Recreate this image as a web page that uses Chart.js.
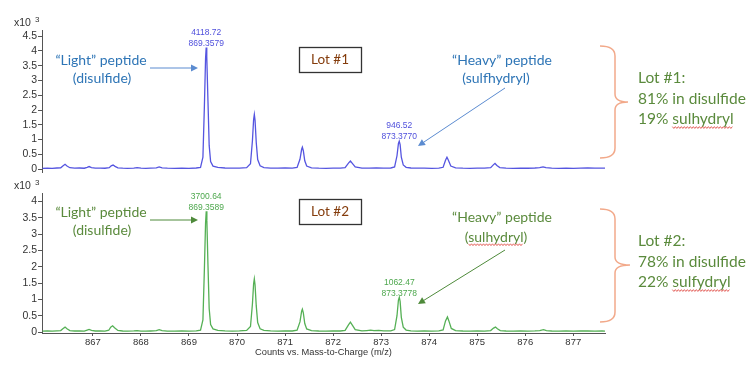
<!DOCTYPE html>
<html>
<head>
<meta charset="utf-8">
<script src="https://cdn.jsdelivr.net/npm/chart.js@4.4.1/dist/chart.umd.min.js"></script>
<style>
    body { margin: 0; background: #fff; }
    #wrap { position: relative; width: 750px; height: 367px; overflow: hidden; }
    canvas { position: absolute; left: 0; }
    #lot1 { top: 0; }
    #lot2 { top: 180px; }
</style>
</head>
<body>
<div id="wrap">
    <canvas id="lot1" width="750" height="182"></canvas>
    <canvas id="lot2" width="750" height="187"></canvas>
</div>
<script>
// Profile spectra: [m/z, counts]
const lot1Trace = [
    [865.95, 25], [866.05, 32], [866.15, 26], [866.25, 35], [866.33, 40], [866.38, 110], [866.42, 160], [866.46, 105],
    [866.52, 45], [866.62, 30], [866.72, 36], [866.82, 28], [866.88, 60], [866.92, 85], [866.97, 50], [867.05, 30],
    [867.15, 34], [867.25, 27], [867.34, 45], [867.38, 110], [867.42, 135], [867.46, 90], [867.52, 40], [867.62, 30],
    [867.72, 25], [867.85, 32], [867.92, 45], [868.0, 28], [868.1, 24], [868.2, 30], [868.32, 38], [868.38, 70],
    [868.44, 38], [868.55, 28], [868.7, 22], [868.85, 30], [869.0, 26], [869.15, 35], [869.24, 55], [869.29, 400],
    [869.32, 2100], [869.345, 3750], [869.358, 4118.72], [869.37, 3800], [869.395, 2300], [869.42, 800], [869.45, 250],
    [869.5, 100], [869.6, 55], [869.75, 35], [869.9, 28], [870.05, 33], [870.2, 48], [870.28, 180], [870.32, 950],
    [870.345, 1680], [870.36, 1850], [870.375, 1650], [870.40, 900], [870.43, 320], [870.48, 110], [870.56, 50],
    [870.7, 32], [870.85, 28], [871.0, 35], [871.15, 30], [871.25, 55], [871.31, 330], [871.345, 670], [871.36, 740],
    [871.38, 620], [871.41, 280], [871.45, 100], [871.55, 42], [871.7, 30], [871.85, 26], [872.0, 34], [872.15, 30],
    [872.25, 48], [872.32, 200], [872.36, 270], [872.40, 190], [872.46, 70], [872.6, 32], [872.75, 28], [872.9, 35],
    [873.05, 28], [873.2, 36], [873.28, 70], [873.33, 450], [873.36, 870], [873.377, 946.52], [873.395, 830],
    [873.42, 400], [873.46, 140], [873.52, 60], [873.62, 35], [873.75, 28], [873.9, 32], [874.05, 26], [874.2, 34],
    [874.29, 60], [874.34, 300], [874.37, 400], [874.40, 300], [874.45, 100], [874.55, 42], [874.7, 30], [874.85, 25],
    [875.0, 32], [875.15, 28], [875.28, 45], [875.34, 150], [875.37, 190], [875.41, 120], [875.47, 48], [875.6, 30],
    [875.75, 24], [875.9, 32], [876.05, 27], [876.2, 35], [876.3, 45], [876.37, 75], [876.43, 45], [876.55, 30],
    [876.7, 25], [876.85, 33], [877.0, 26], [877.15, 30], [877.3, 38], [877.45, 28], [877.6, 33], [877.66, 28]
];

const lot2Trace = [
    [865.95, 30], [866.05, 35], [866.15, 28], [866.25, 38], [866.33, 45], [866.38, 110], [866.42, 150], [866.46, 100],
    [866.52, 45], [866.62, 32], [866.72, 38], [866.82, 30], [866.88, 60], [866.92, 80], [866.97, 50], [867.05, 32],
    [867.15, 36], [867.25, 30], [867.33, 55], [867.37, 150], [867.41, 190], [867.45, 130], [867.52, 50], [867.62, 32],
    [867.72, 28], [867.85, 34], [867.92, 40], [868.0, 30], [868.1, 26], [868.2, 32], [868.32, 40], [868.38, 70],
    [868.44, 40], [868.55, 30], [868.7, 25], [868.85, 32], [869.0, 28], [869.15, 36], [869.24, 55], [869.29, 370],
    [869.32, 1900], [869.345, 3350], [869.359, 3700.64], [869.372, 3420], [869.395, 2050], [869.42, 720], [869.45, 230],
    [869.5, 95], [869.6, 50], [869.75, 35], [869.9, 30], [870.05, 34], [870.2, 48], [870.28, 170], [870.32, 850],
    [870.345, 1480], [870.36, 1630], [870.375, 1450], [870.40, 800], [870.43, 290], [870.48, 100], [870.56, 48],
    [870.7, 34], [870.85, 30], [871.0, 36], [871.15, 32], [871.25, 55], [871.31, 310], [871.345, 640], [871.36, 700],
    [871.38, 590], [871.41, 260], [871.45, 95], [871.55, 42], [871.7, 32], [871.85, 28], [872.0, 35], [872.15, 32],
    [872.25, 50], [872.32, 220], [872.36, 300], [872.40, 210], [872.46, 75], [872.6, 35], [872.7, 45], [872.78, 55],
    [872.85, 40], [872.95, 52], [873.05, 35], [873.2, 38], [873.28, 75], [873.33, 500], [873.36, 980], [873.378, 1062.47],
    [873.395, 940], [873.42, 450], [873.46, 150], [873.52, 60], [873.62, 36], [873.75, 30], [873.9, 34], [874.05, 28],
    [874.2, 36], [874.29, 65], [874.34, 340], [874.38, 460], [874.41, 340], [874.46, 110], [874.55, 45], [874.7, 32],
    [874.85, 27], [875.0, 33], [875.15, 30], [875.28, 45], [875.34, 120], [875.38, 150], [875.42, 100], [875.48, 45],
    [875.6, 32], [875.75, 26], [875.9, 33], [876.05, 28], [876.2, 36], [876.3, 45], [876.38, 70], [876.44, 45],
    [876.55, 32], [876.7, 27], [876.85, 34], [877.0, 28], [877.15, 31], [877.3, 38], [877.45, 29], [877.6, 34], [877.66, 30]
];

// Labelled peaks
const lot1PeakMz = [869.3579, 873.3770];
const lot1PeakCounts = [4118.72, 946.52];
const lot2PeakMz = [869.3589, 873.3778];
const lot2PeakCounts = [3700.64, 1062.47];

// Tick labels
const lot1Ticks = [0, 500, 1000, 1500, 2000, 2500, 3000, 3500, 4000, 4500];
const lot2Ticks = [0, 500, 1000, 1500, 2000, 2500, 3000, 3500, 4000];
const mzTicks = [867, 868, 869, 870, 871, 872, 873, 874, 875, 876, 877];

const AX_FONT = '"Liberation Sans", Arial, sans-serif';
const UI_FONT = 'Lato, "Open Sans", sans-serif';

// Drawing helpers
function text(ctx, str, x, y, size, color, align, family) {
    ctx.font = `${size}px ${family || UI_FONT}`;
    ctx.fillStyle = color;
    ctx.textAlign = align || 'center';
    ctx.textBaseline = 'middle';
    ctx.fillText(str, x, y);
}

function arrow(ctx, x1, y1, x2, y2, color) {
    const a = Math.atan2(y2 - y1, x2 - x1);
    const len = 7, half = 3.5;
    ctx.strokeStyle = color;
    ctx.fillStyle = color;
    ctx.lineWidth = 1;
    ctx.beginPath();
    ctx.moveTo(x1, y1);
    ctx.lineTo(x2 - Math.cos(a) * len, y2 - Math.sin(a) * len);
    ctx.stroke();
    ctx.beginPath();
    ctx.moveTo(x2, y2);
    ctx.lineTo(x2 - Math.cos(a) * len - Math.sin(a) * half, y2 - Math.sin(a) * len + Math.cos(a) * half);
    ctx.lineTo(x2 - Math.cos(a) * len + Math.sin(a) * half, y2 - Math.sin(a) * len - Math.cos(a) * half);
    ctx.closePath();
    ctx.fill();
}

function squiggle(ctx, x0, x1, y) {
    ctx.strokeStyle = '#e0504a';
    ctx.lineWidth = 0.9;
    ctx.beginPath();
    let k = 0;
    for (let x = x0; x <= x1; x += 1.5, k++) {
        const yy = y + (k % 2 ? 0.9 : -0.9);
        if (k === 0) ctx.moveTo(x, yy); else ctx.lineTo(x, yy);
    }
    ctx.stroke();
}

// underline one word of a string drawn with text()
function squiggleWord(ctx, str, word, x, y, size, align) {
    ctx.font = `${size}px ${UI_FONT}`;
    const full = ctx.measureText(str).width;
    const left = align === 'left' ? x : x - full / 2;
    const idx = str.indexOf(word);
    const start = left + ctx.measureText(str.slice(0, idx)).width;
    const w = ctx.measureText(word).width;
    squiggle(ctx, start, start + w, y + size * 0.55);
}

function brace(ctx, xl, xs, xt, yTop, yMid, yBot) {
    ctx.strokeStyle = '#f2a98a';
    ctx.lineWidth = 1.5;
    ctx.beginPath();
    ctx.moveTo(xl, yTop);
    ctx.quadraticCurveTo(xs, yTop, xs, yTop + 10);
    ctx.lineTo(xs, yMid - 8);
    ctx.quadraticCurveTo(xs, yMid, xt, yMid);
    ctx.quadraticCurveTo(xs, yMid, xs, yMid + 8);
    ctx.lineTo(xs, yBot - 10);
    ctx.quadraticCurveTo(xs, yBot, xl, yBot);
    ctx.stroke();
}

function notesPlugin(n) {
    return {
        id: 'notes',
        afterDraw(chart) {
            const ctx = chart.ctx;
            const xs = chart.scales.x, ys = chart.scales.y;
            ctx.save();

            // x10^3 multiplier
            text(ctx, 'x10', 14, n.expY, 10.5, '#333', 'left', AX_FONT);
            text(ctx, '3', 35, n.expY - 3, 8, '#333', 'left', AX_FONT);

            // peak labels
            n.peakMz.forEach((mz, i) => {
                const px = xs.getPixelForValue(mz);
                const py = ys.getPixelForValue(n.peakCounts[i]);
                text(ctx, n.peakCounts[i].toFixed(2), px, py - 15, 8.5, n.trace, 'center', AX_FONT);
                text(ctx, mz.toFixed(4), px, py - 4, 8.5, n.trace, 'center', AX_FONT);
            });

            // light peptide
            text(ctx, '\u201CLight\u201D peptide', 101, n.lightY, 14, n.note);
            text(ctx, '(disulfide)', 102, n.lightY + 18, 14, n.note);
            arrow(ctx, 150, n.lightY + 8, 198, n.lightY + 8, n.arrow);

            // lot box
            ctx.strokeStyle = '#333';
            ctx.lineWidth = 1.3;
            ctx.strokeRect(299.5, n.boxY + 0.5, 62, 25);
            text(ctx, n.lot, 330, n.boxY + 13, 13.5, '#843c0c');

            // heavy peptide
            text(ctx, '\u201CHeavy\u201D peptide', 502, n.heavyY, 14, n.note);
            text(ctx, n.heavyWord, 496, n.heavyY + n.heavyGap, 14, n.note);
            if (n.heavySquiggle) squiggleWord(ctx, n.heavyWord, n.heavySquiggle, 496, n.heavyY + n.heavyGap, 14, 'center');
            arrow(ctx, n.heavyArrow[0], n.heavyArrow[1], n.heavyArrow[2], n.heavyArrow[3], n.arrow);

            // summary
            brace(ctx, 600, 615, n.braceTip, n.brace[0], n.brace[1], n.brace[2]);
            n.summary.forEach((s, i) => {
                const y = n.summaryY + i * 20.5;
                text(ctx, s, 638, y, 15.5, '#5a8a3c', 'left');
                if (i === 2) squiggleWord(ctx, s, n.summaryWord, 638, y, 15.5, 'left');
            });
            ctx.restore();
        }
    };
}

function spectrumChart(id, trace, color, yTicks, yMin, yMax, pad, showX, notes) {
    const tickFont = { family: AX_FONT, size: 10.5 };
    return new Chart(document.getElementById(id), {
        type: 'line',
        data: {
            datasets: [{
                data: trace.map(p => ({ x: p[0], y: p[1] })),
                borderColor: color,
                borderWidth: 1.3,
                pointRadius: 0,
                tension: 0,
                fill: false
            }]
        },
        options: {
            responsive: false,
            animation: false,
            devicePixelRatio: 1,
            layout: { padding: pad },
            plugins: { legend: { display: false }, tooltip: { enabled: false } },
            scales: {
                x: {
                    type: 'linear',
                    min: 865.94,
                    max: 877.66,
                    display: showX,
                    afterBuildTicks: s => { s.ticks = mzTicks.map(v => ({ value: v })); },
                    afterFit: s => { s.height = showX ? 34 : 0; },
                    ticks: {
                        autoSkip: false, maxRotation: 0, padding: 1, color: '#333',
                        font: { family: AX_FONT, size: 9.5 },
                        callback: v => String(v)
                    },
                    grid: { drawOnChartArea: false, tickLength: 3, color: '#555' },
                    border: { color: '#555' },
                    title: {
                        display: true,
                        text: 'Counts vs. Mass-to-Charge (m/z)',
                        color: '#333',
                        font: { family: AX_FONT, size: 9.3 },
                        padding: { top: 0, bottom: 9 }
                    }
                },
                y: {
                    min: yMin,
                    max: yMax,
                    afterFit: s => { s.width = 42; },
                    afterBuildTicks: s => { s.ticks = yTicks.map(v => ({ value: v })); },
                    ticks: { autoSkip: false, padding: 1, color: '#333', font: tickFont, callback: v => String(v / 1000) },
                    grid: { drawOnChartArea: false, tickLength: 4, color: '#555' },
                    border: { color: '#555' }
                }
            }
        },
        plugins: [notesPlugin(notes)]
    });
}

spectrumChart('lot1', lot1Trace, '#5555e0', lot1Ticks, -100, 4710,
    { left: 0, right: 145, top: 30, bottom: 10 }, false, {
        expY: 23, trace: '#5050dc', note: '#2e75b6', arrow: '#5b8bd0',
        peakMz: lot1PeakMz, peakCounts: lot1PeakCounts,
        lightY: 60, boxY: 47, lot: 'Lot #1',
        heavyY: 60, heavyGap: 18, heavyWord: '(sulfhydryl)', heavySquiggle: null,
        heavyArrow: [505, 88, 418, 146],
        brace: [46, 102, 158], braceTip: 628,
        summary: ['Lot #1:', '81% in disulfide', '19% sulhydryl'], summaryWord: 'sulhydryl', summaryY: 78
    });

spectrumChart('lot2', lot2Trace, '#55b055', lot2Ticks, -30, 4260,
    { left: 0, right: 145, top: 13, bottom: 0 }, true, {
        expY: 6, trace: '#4ea84e', note: '#5a8a3c', arrow: '#4e8a3a',
        peakMz: lot2PeakMz, peakCounts: lot2PeakCounts,
        lightY: 32, boxY: 19, lot: 'Lot #2',
        heavyY: 37, heavyGap: 20, heavyWord: '(sulhydryl)', heavySquiggle: 'sulhydryl',
        heavyArrow: [505, 70, 418, 124],
        brace: [29, 85, 142], braceTip: 630,
        summary: ['Lot #2:', '78% in disulfide', '22% sulfydryl'], summaryWord: 'sulfydryl', summaryY: 61
    });
</script>
</body>
</html>
